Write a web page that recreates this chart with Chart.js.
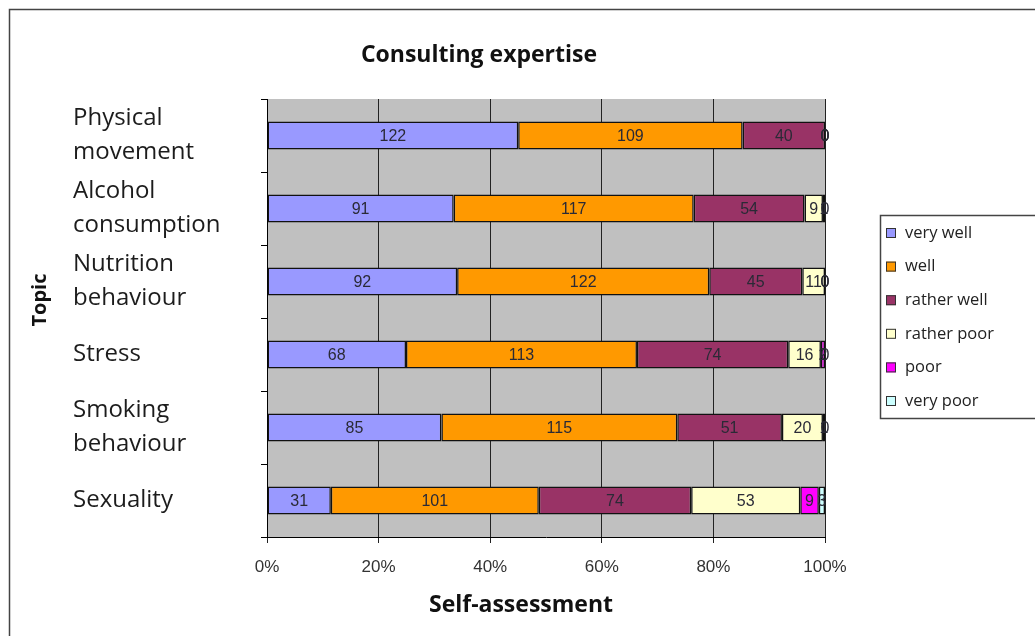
<!DOCTYPE html>
<html>
<head>
<meta charset="utf-8">
<title>Consulting expertise</title>
<script src="https://cdn.jsdelivr.net/npm/chart.js@4/dist/chart.umd.min.js"></script>
<style>
  html, body { margin: 0; padding: 0; background: #fff; }
  canvas { display: block; }
</style>
</head>
<body>
<canvas id="chart" width="1035" height="636"></canvas>
<script>
// topics (multi-line labels) and answer counts per rating
const topics = [
    ['Physical', 'movement'],
    ['Alcohol', 'consumption'],
    ['Nutrition', 'behaviour'],
    ['Stress'],
    ['Smoking', 'behaviour'],
    ['Sexuality']
];
const ratings = ['very well', 'well', 'rather well', 'rather poor', 'poor', 'very poor'];
const colors = ['#9999ff', '#ff9900', '#993366', '#ffffcc', '#ff00ff', '#ccffff'];

const veryWell   = [122, 91, 92, 68, 85, 31];
const well       = [109, 117, 122, 113, 115, 101];
const ratherWell = [40, 54, 45, 74, 51, 74];
const ratherPoor = [0, 9, 11, 16, 20, 53];
const poor       = [0, 1, 0, 2, 1, 9];
const veryPoor   = [0, 0, 0, 0, 0, 3];

const series = [veryWell, well, ratherWell, ratherPoor, poor, veryPoor];
const totals = topics.map((t, i) => series.reduce((acc, s) => acc + s[i], 0));

const datasets = series.map((counts, k) => ({
    label: ratings[k],
    counts: counts,
    data: counts.map((v, i) => v / totals[i] * 100),
    backgroundColor: colors[k],
    borderColor: '#111',
    borderWidth: 1.5,
    borderSkipped: false,
    barPercentage: 0.384,
    categoryPercentage: 1
}));

const dark = '#1c1c1c';

const plotBackground = {
    id: 'plotBackground',
    beforeDraw(chart) {
        const { ctx, chartArea: a } = chart;
        ctx.save();
        ctx.fillStyle = '#fff';
        ctx.fillRect(0, 0, chart.width, chart.height);
        ctx.fillStyle = '#c0c0c0';
        ctx.fillRect(a.left, a.top, a.right - a.left, a.bottom - a.top);
        ctx.restore();
    }
};

// count labels in the middle of each segment
const countLabels = {
    id: 'countLabels',
    afterDatasetsDraw(chart) {
        const ctx = chart.ctx;
        ctx.save();
        ctx.font = '16px "Liberation Sans", Arial, sans-serif';
        ctx.fillStyle = '#2a2a36';
        ctx.textAlign = 'center';
        ctx.textBaseline = 'middle';
        chart.data.datasets.forEach((ds, k) => {
            chart.getDatasetMeta(k).data.forEach((bar, i) => {
                const cx = (bar.x + bar.base) / 2;
                ctx.fillText(String(ds.counts[i]), cx, bar.y + 1);
            });
        });
        ctx.restore();
    }
};

const decorations = {
    id: 'decorations',
    afterDraw(chart) {
        const ctx = chart.ctx;
        ctx.save();
        ctx.fillStyle = '#111';
        ctx.textAlign = 'center';
        ctx.textBaseline = 'middle';
        ctx.font = 'bold 23px "Open Sans", sans-serif';
        ctx.fillText('Consulting expertise', 479, 55);
        ctx.fillText('Self-assessment', 521, 605);

        ctx.save();
        ctx.font = 'bold 20px "Open Sans", sans-serif';
        ctx.translate(40, 300);
        ctx.rotate(-Math.PI / 2);
        ctx.fillText('Topic', 0, 0);
        ctx.restore();

        // legend box
        ctx.strokeStyle = '#444';
        ctx.lineWidth = 1.5;
        ctx.strokeRect(880.5, 215.5, 200, 203);
        ctx.font = '16.5px "Open Sans", sans-serif';
        ctx.textAlign = 'left';
        chart.data.datasets.forEach((ds, k) => {
            const y = 233 + k * 33.6;
            ctx.fillStyle = ds.backgroundColor;
            ctx.fillRect(886, y - 5, 10, 10);
            ctx.strokeStyle = '#333';
            ctx.lineWidth = 1;
            ctx.strokeRect(886.5, y - 4.5, 9, 9);
            ctx.fillStyle = '#222';
            ctx.fillText(ds.label, 905, y);
        });

        // outer frame
        ctx.strokeStyle = '#444';
        ctx.lineWidth = 1.5;
        ctx.strokeRect(9.5, 9.5, 1100, 700);
        ctx.restore();
    }
};

new Chart(document.getElementById('chart'), {
    type: 'bar',
    data: { labels: topics, datasets: datasets },
    options: {
        indexAxis: 'y',
        responsive: false,
        animation: false,
        layout: { padding: { left: 73, right: 210, top: 99, bottom: 59 } },
        plugins: {
            legend: { display: false },
            tooltip: { enabled: false }
        },
        scales: {
            x: {
                stacked: true,
                min: 0,
                max: 100,
                afterFit: (scale) => { scale.height = 40; },
                ticks: {
                    stepSize: 20,
                    callback: (v) => v + '%',
                    color: '#333',
                    padding: 14,
                    font: { family: '"Liberation Sans", Arial, sans-serif', size: 17 }
                },
                grid: { color: '#222', lineWidth: 1, tickLength: 6 },
                border: { display: true, color: '#000', width: 1 }
            },
            y: {
                stacked: true,
                afterFit: (scale) => { scale.width = 194; },
                ticks: {
                    crossAlign: 'far',
                    color: dark,
                    font: { family: '"Open Sans", sans-serif', size: 24, lineHeight: 1.42 }
                },
                grid: { offset: true, drawOnChartArea: false, color: '#000', tickLength: 6 },
                border: { display: true, color: '#000', width: 1 }
            }
        }
    },
    plugins: [plotBackground, countLabels, decorations]
});
</script>
</body>
</html>
